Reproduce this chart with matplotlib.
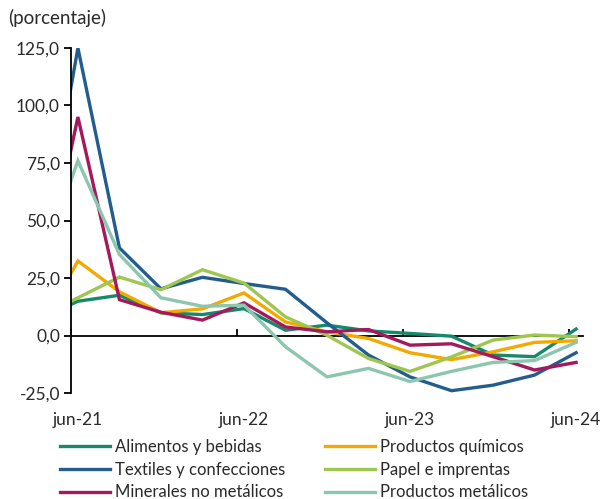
import matplotlib.pyplot as plt
from matplotlib.ticker import FuncFormatter, FixedLocator

plt.rcParams['font.family'] = ['Lato', 'DejaVu Sans']

# trimestres (mar-21 queda fuera del eje, como en el original)
periodos = ['mar-21', 'jun-21', 'sep-21', 'dic-21', 'mar-22', 'jun-22', 'sep-22',
            'dic-22', 'mar-23', 'jun-23', 'sep-23', 'dic-23', 'mar-24', 'jun-24']
etiquetas_x = ['jun-21', 'jun-22', 'jun-23', 'jun-24']

alimentos = [6.5, 14.9, 17.5, 9.9, 9.1, 11.7, 2.3, 4.5, 2.0, 0.9, -0.3, -8.5, -9.2, 2.8]
quimicos = [0.0, 32.4, 19.0, 9.9, 11.6, 18.5, 5.9, 1.6, -1.3, -7.5, -10.5, -7.1, -3.0, -2.3]
textiles = [23.0, 125.0, 38.1, 20.3, 25.3, 22.6, 20.1, 5.5, -8.5, -18.0, -24.0, -21.6, -17.2, -7.5]
papel = [7.4, 16.4, 25.4, 19.9, 28.6, 22.8, 8.1, 0.1, -10.0, -15.6, -9.3, -2.0, 0.2, -0.5]
minerales = [10.0, 95.0, 15.6, 10.1, 6.7, 14.2, 3.7, 1.6, 2.6, -4.2, -3.6, -9.2, -15.0, -11.7]
metalicos = [25.0, 76.0, 35.2, 16.4, 12.7, 13.2, -4.9, -18.0, -14.3, -20.0, -15.6, -11.7, -10.9, -3.0]

series = [
    ('Alimentos y bebidas', alimentos, '#16896b'),
    ('Productos químicos', quimicos, '#f2a900'),
    ('Textiles y confecciones', textiles, '#235d8e'),
    ('Papel e imprentas', papel, '#9dc74f'),
    ('Minerales no metálicos', minerales, '#a3195b'),
    ('Productos metálicos', metalicos, '#8cc6ae'),
]

x = [i - 1 for i in range(len(periodos))]  # jun-21 -> 0

fig = plt.figure(figsize=(6.10, 4.99), dpi=100)
ax = fig.add_axes([71 / 610, 1 - 393 / 499, 512 / 610, 345 / 499])

lineas = {}
for nombre, vals, col in series:
    l, = ax.plot(x, vals, color=col, lw=2.4, label=nombre, solid_joinstyle='miter')
    lineas[nombre] = l

ax.set_xlim(-1 / 6, 12 + 1 / 6)
ax.set_ylim(-25, 125)
ax.set_yticks([-25, 0, 25, 50, 75, 100, 125])
ax.yaxis.set_major_formatter(FuncFormatter(lambda v, p: f'{v:.1f}'.replace('.', ',')))
ax.tick_params(axis='y', direction='out', length=5, width=1.3, labelsize=12.5,
               colors='black', labelcolor='#2a2a2a', pad=3)

for s in ['top', 'right']:
    ax.spines[s].set_visible(False)
ax.spines['left'].set_linewidth(1.3)
ax.spines['bottom'].set_position(('data', 0))
ax.spines['bottom'].set_linewidth(1.3)
ax.spines['bottom'].set_zorder(1)

ax.xaxis.set_major_locator(FixedLocator([4 * k - 1 / 6 for k in range(4)]))
ax.tick_params(axis='x', direction='in', length=5, width=1.3, labelbottom=False)

sec = ax.secondary_xaxis('bottom')
sec.set_xticks([4 * k for k in range(4)])
sec.set_xticklabels(etiquetas_x)
sec.tick_params(length=0, labelsize=12.5, labelcolor='#2a2a2a', pad=14)
sec.spines['bottom'].set_visible(False)

fig.text(8 / 610, 1 - 18 / 499, '(porcentaje)', fontsize=13.5, color='#2a2a2a',
         va='center', ha='left')

orden = ['Alimentos y bebidas', 'Textiles y confecciones', 'Minerales no metálicos',
         'Productos químicos', 'Papel e imprentas', 'Productos metálicos']
fig.legend([lineas[n] for n in orden], orden, ncol=2, frameon=False,
           loc='upper left', bbox_to_anchor=(60 / 610, 1 - 439 / 499),
           borderpad=0, borderaxespad=0, fontsize=12, handlelength=3.0,
           handletextpad=0.3, columnspacing=2.4, labelspacing=0.4,
           labelcolor='#2a2a2a')

fig.savefig('out.png', dpi=100)
